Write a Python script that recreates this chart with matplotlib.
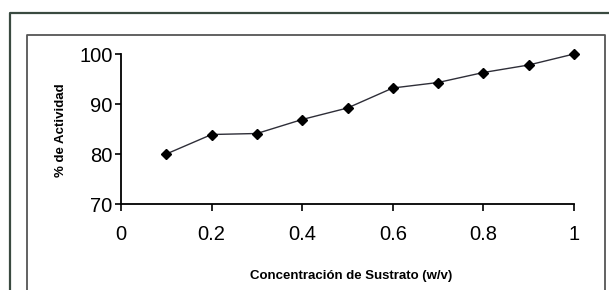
import matplotlib
matplotlib.use("Agg")
import matplotlib.pyplot as plt
from matplotlib.lines import Line2D

# substrate concentration (w/v) vs % activity
concentration = [0.1, 0.2, 0.3, 0.4, 0.5, 0.6, 0.7, 0.8, 0.9, 1.0]
activity = [80.0, 83.9, 84.1, 86.9, 89.2, 93.2, 94.3, 96.3, 97.8, 100.0]

x_ticks = [0, 0.2, 0.4, 0.6, 0.8, 1]
x_ticklabels = ["0", "0.2", "0.4", "0.6", "0.8", "1"]
y_ticks = [70, 80, 90, 100]

plt.rcParams['font.family'] = ['Liberation Sans', 'DejaVu Sans']

W, H = 609, 290
fig = plt.figure(figsize=(W / 100, H / 100), dpi=100)

# axes placed in pixel terms, converted to figure fractions
ax = fig.add_axes([121 / W, 1 - 204 / H, (574 - 121) / W, (204 - 54) / H])
ax.plot(concentration, activity, color='#2e2e38', lw=1.0,
        marker='D', markersize=5, markerfacecolor='black', markeredgecolor='black',
        clip_on=False, zorder=5)

ax.set_xlim(0, 1)
ax.set_ylim(70, 100)
ax.set_xticks(x_ticks)
ax.set_xticklabels(x_ticklabels)
ax.set_yticks(y_ticks)
ax.spines['top'].set_visible(False)
ax.spines['right'].set_visible(False)
for s in ('left', 'bottom'):
    ax.spines[s].set_linewidth(1.3)
    ax.spines[s].set_color('black')
ax.tick_params(axis='x', direction='out', length=5, width=1.2, pad=10, labelsize=14.5)
ax.tick_params(axis='y', direction='out', length=4, width=1.2, pad=2, labelsize=14.5)
ax.patch.set_alpha(0)

fig.text(61 / W, 1 - 130 / H, "% de Actividad", rotation=90, ha='center', va='center',
         fontsize=9.5, fontweight='bold')
fig.text(351 / W, 1 - 276 / H, "Concentración de Sustrato (w/v)", ha='center', va='center',
         fontsize=9.5, fontweight='bold')

# outer and inner frames of the scanned figure
def fline(xs, ys, **kw):
    fig.add_artist(Line2D([x / W for x in xs], [1 - y / H for y in ys],
                          transform=fig.transFigure, **kw))

fline([10, 10, 620], [300, 13, 13], color='#3a4a40', lw=1.6)
fline([27, 27, 605, 605], [300, 35, 35, 300], color='#555555', lw=1.3)

fig.savefig("out.png", dpi=100)
